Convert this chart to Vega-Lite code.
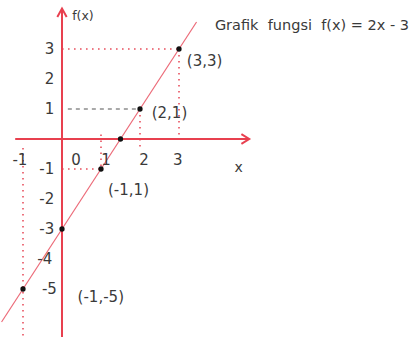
{
  "$schema": "https://vega.github.io/schema/vega-lite/v6.json",
  "width": 418,
  "height": 339,
  "autosize": "none",
  "padding": 0,
  "background": "white",
  "config": {
    "view": {"stroke": null},
    "text": {"font": "DejaVu Sans", "color": "#3a3a3a"}
  },
  "encoding": {
    "x": {"field": "x", "type": "quantitative", "axis": null,
          "scale": {"domain": [-1.5897, 9.1282], "nice": false, "zero": false}},
    "y": {"field": "y", "type": "quantitative", "axis": null,
          "scale": {"domain": [-6.6667, 4.6333], "nice": false, "zero": false}}
  },
  "layer": [
    {
      "description": "red dotted guide lines",
      "data": {"values": [
        {"x": 0, "y": 3, "x2": 3, "y2": 3},
        {"x": 3, "y": 3, "x2": 3, "y2": 0},
        {"x": 2, "y": 1, "x2": 2, "y2": -0.37},
        {"x": 1, "y": 0.15, "x2": 1, "y2": -1},
        {"x": 0, "y": -1, "x2": 1, "y2": -1},
        {"x": -1, "y": -0.3, "x2": -1, "y2": -6.6}
      ]},
      "mark": {"type": "rule", "color": "#e8505e", "strokeWidth": 1.6, "strokeDash": [1.6, 4.4]},
      "encoding": {"x2": {"field": "x2"}, "y2": {"field": "y2"}}
    },
    {
      "description": "dark dashed guide at f(x) = 1",
      "data": {"values": [{"x": 0.15, "y": 1, "x2": 2, "y2": 1}]},
      "mark": {"type": "rule", "color": "#555555", "strokeWidth": 1.2, "strokeDash": [4, 4]},
      "encoding": {"x2": {"field": "x2"}, "y2": {"field": "y2"}}
    },
    {
      "description": "coordinate axes",
      "data": {"values": [
        {"x": 0, "y": -6.6, "x2": 0, "y2": 4.35},
        {"x": -1.2, "y": 0, "x2": 4.8, "y2": 0}
      ]},
      "mark": {"type": "rule", "color": "#e8404f", "strokeWidth": 2},
      "encoding": {"x2": {"field": "x2"}, "y2": {"field": "y2"}}
    },
    {
      "description": "arrow heads at the ends of both axes",
      "data": {"values": [
        {"arrow": "up", "i": 0, "x": -0.12, "y": 4.07},
        {"arrow": "up", "i": 1, "x": 0, "y": 4.35},
        {"arrow": "up", "i": 2, "x": 0.12, "y": 4.07},
        {"arrow": "right", "i": 0, "x": 4.6, "y": 0.16},
        {"arrow": "right", "i": 1, "x": 4.8, "y": 0},
        {"arrow": "right", "i": 2, "x": 4.6, "y": -0.16}
      ]},
      "mark": {"type": "line", "color": "#e8404f", "strokeWidth": 2, "strokeJoin": "miter"},
      "encoding": {
        "detail": {"field": "arrow"},
        "order": {"field": "i", "type": "quantitative"}
      }
    },
    {
      "description": "graph of f(x) = 2x - 3",
      "data": {"values": [{"x": -1.55, "y": -6.1}, {"x": 3.45, "y": 3.9}]},
      "mark": {"type": "line", "color": "#ec6a78", "strokeWidth": 1.2},
      "encoding": {}
    },
    {
      "description": "plotted points",
      "data": {"values": [
        {"x": 3, "y": 3}, {"x": 2, "y": 1}, {"x": 1.5, "y": 0},
        {"x": 1, "y": -1}, {"x": 0, "y": -3}, {"x": -1, "y": -5}
      ]},
      "mark": {"type": "point", "shape": "circle", "filled": true, "color": "#111111", "size": 28, "opacity": 1}
    },
    {
      "description": "x axis numbers",
      "data": {"values": [
        {"x": -1.08, "y": -0.7, "t": "-1"},
        {"x": 0.36, "y": -0.7, "t": "0"},
        {"x": 1.13, "y": -0.7, "t": "1"},
        {"x": 2.1, "y": -0.7, "t": "2"},
        {"x": 2.97, "y": -0.7, "t": "3"}
      ]},
      "mark": {"type": "text", "fontSize": 15, "align": "center", "baseline": "middle"},
      "encoding": {"text": {"field": "t"}}
    },
    {
      "description": "f(x) axis numbers",
      "data": {"values": [
        {"x": -0.2, "y": 3, "t": "3"},
        {"x": -0.2, "y": 2, "t": "2"},
        {"x": -0.2, "y": 1, "t": "1"},
        {"x": -0.2, "y": -1, "t": "-1"},
        {"x": -0.2, "y": -2, "t": "-2"},
        {"x": -0.2, "y": -3, "t": "-3"},
        {"x": -0.25, "y": -4, "t": "-4"},
        {"x": -0.13, "y": -5, "t": "-5"}
      ]},
      "mark": {"type": "text", "fontSize": 15, "align": "right", "baseline": "middle"},
      "encoding": {"text": {"field": "t"}}
    },
    {
      "description": "point labels",
      "data": {"values": [
        {"x": 3.2, "y": 2.6, "t": "(3,3)"},
        {"x": 2.3, "y": 0.87, "t": "(2,1)"},
        {"x": 1.18, "y": -1.7, "t": "(-1,1)"},
        {"x": 0.4, "y": -5.27, "t": "(-1,-5)"}
      ]},
      "mark": {"type": "text", "fontSize": 15, "align": "left", "baseline": "middle"},
      "encoding": {"text": {"field": "t"}}
    },
    {
      "description": "axis names and caption",
      "data": {"values": [
        {"x": 0.26, "y": 4.1, "t": "f(x)", "s": 12.5},
        {"x": 4.42, "y": -0.97, "t": "x", "s": 14},
        {"x": 3.92, "y": 3.77, "t": "Grafik\u00a0 fungsi\u00a0 f(x) = 2x - 3", "s": 14.5}
      ]},
      "mark": {"type": "text", "align": "left", "baseline": "middle"},
      "encoding": {
        "text": {"field": "t"},
        "size": {"field": "s", "type": "quantitative", "scale": null}
      }
    }
  ]
}
